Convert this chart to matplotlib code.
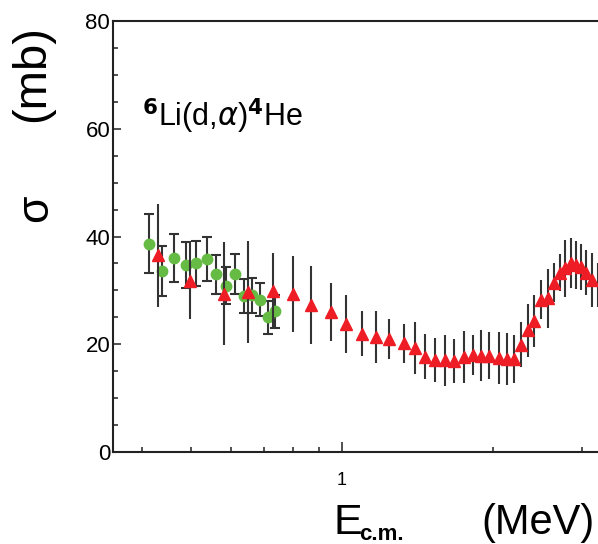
import matplotlib

matplotlib.use("Agg")
import matplotlib.pyplot as plt
from matplotlib.ticker import FixedFormatter, FixedLocator, NullFormatter

plt.rcParams["font.family"] = ["Liberation Sans", "DejaVu Sans"]

# Green circles (older data set)
green_e = [0.413, 0.438, 0.463, 0.488, 0.513, 0.538, 0.562, 0.588, 0.613,
           0.638, 0.663, 0.688, 0.711, 0.737]
green_sigma = [38.7, 33.6, 36.0, 34.7, 35.0, 35.8, 33.0, 30.9, 33.1,
               29.0, 29.1, 28.3, 25.0, 26.1]
green_err = [5.5, 4.7, 4.4, 4.2, 4.2, 4.05, 3.6, 3.4, 3.7,
             3.15, 3.2, 3.1, 3.0, 3.0]

# Red triangles (this work)
red_e = [0.431, 0.499, 0.581, 0.649, 0.730, 0.798, 0.868, 0.949, 1.019,
         1.096, 1.168, 1.238, 1.326, 1.395, 1.466, 1.532, 1.602, 1.673,
         1.746, 1.820, 1.891, 1.959, 2.051, 2.128, 2.198, 2.270, 2.341,
         2.417, 2.485, 2.567, 2.642, 2.713, 2.780, 2.853, 2.920, 2.988,
         3.066, 3.148]
red_sigma = [36.5, 31.8, 29.4, 29.7, 29.9, 29.35, 27.3, 26.0, 23.7,
             22.0, 21.3, 21.0, 20.2, 19.3, 17.7, 17.1, 17.0, 16.9,
             17.6, 18.0, 17.9, 17.9, 17.5, 17.3, 17.2, 19.9, 22.6,
             24.3, 28.3, 28.5, 31.4, 33.3, 34.1, 35.1, 34.7, 34.3,
             33.3, 32.0]
red_err = [9.5, 7.05, 9.55, 9.55, 7.1, 7.1, 7.2, 5.3, 5.4,
           4.2, 4.8, 3.65, 3.6, 4.8, 4.2, 4.1, 4.8, 4.1,
           4.8, 3.65, 4.8, 4.3, 4.8, 4.8, 4.45, 4.2, 4.95,
           4.8, 3.6, 5.4, 3.6, 3.5, 5.25, 4.7, 4.5, 4.3,
           4.2, 5.0]

# last bar, its marker falls off the right edge
edge_e = [3.236]
edge_sigma = [31.0]
edge_err = [4.1]

fig = plt.figure(figsize=(5.98, 5.44), dpi=100)
ax = fig.add_axes([0.189, 0.169, 0.815, 0.7924])

ax.errorbar(green_e, green_sigma, yerr=green_err, fmt="o", color="#66bb44",
            ms=7.5, ecolor="#333333", elinewidth=1.5, capsize=3.6,
            capthick=1.5, zorder=3)
ax.errorbar(red_e, red_sigma, yerr=red_err, fmt="^", color="#ee1c24",
            ms=8.5, ecolor="#333333", elinewidth=1.5, capsize=0, zorder=4)
ax.errorbar(edge_e, edge_sigma, yerr=edge_err, fmt="none",
            ecolor="#333333", elinewidth=1.5, capsize=0, zorder=4)

ax.set_xscale("log")
ax.set_xlim(0.35, 3.27)
ax.set_ylim(0, 80)

ax.xaxis.set_major_locator(FixedLocator([1]))
ax.xaxis.set_minor_locator(FixedLocator([0.4, 0.5, 0.6, 0.7, 0.8, 0.9, 2, 3]))
ax.xaxis.set_major_formatter(FixedFormatter(["1"]))
ax.xaxis.set_minor_formatter(NullFormatter())
ax.yaxis.set_major_locator(FixedLocator([0, 20, 40, 60, 80]))
ax.yaxis.set_minor_locator(FixedLocator(range(0, 81, 5)))

ax.tick_params(axis="both", which="both", direction="in", width=1.2,
               color="#333333")
ax.tick_params(axis="x", which="major", length=7.5, pad=14, labelsize=13)
ax.tick_params(axis="x", which="minor", length=3.8)
ax.tick_params(axis="y", which="major", length=5.5, pad=2, labelsize=16)
ax.tick_params(axis="y", which="minor", length=3.8)

for s in ax.spines.values():
    s.set_linewidth(1.5)
    s.set_color("#222222")

ax.text(0.06, 0.755, r"$^{\mathbf{6}}$Li(d,$\alpha$)$^{\mathbf{4}}$He",
        transform=ax.transAxes, fontsize=22, ha="left", va="baseline")

# axis titles
fig.text(0.060, 0.618, "σ", rotation=90, fontsize=32, ha="center",
         va="center")
fig.text(0.0535, 0.864, "(mb)", rotation=90, fontsize=34, ha="center",
         va="center")
fig.text(0.557, 0.0184, "E", fontsize=31, ha="left", va="baseline")
fig.text(0.601, 0.008, "c.m.", fontsize=16, fontweight="bold",
         ha="left", va="baseline")
fig.text(0.995, 0.0184, "(MeV)", fontsize=30, ha="right", va="baseline")

fig.savefig("out.png", dpi=100)
